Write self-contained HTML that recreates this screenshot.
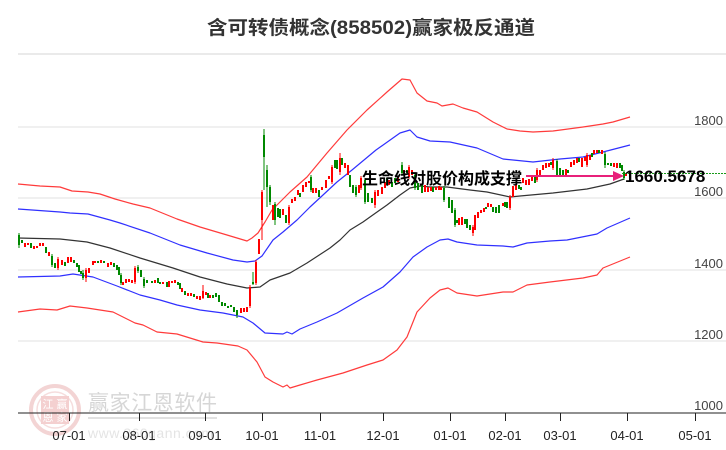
<!DOCTYPE html>
<html>
<head>
<meta charset="utf-8">
<style>
html,body{margin:0;padding:0;background:#fff;}
body{width:726px;height:450px;overflow:hidden;}
svg{display:block;}
</style>
</head>
<body>
<svg width="726" height="450" viewBox="0 0 726 450" xmlns="http://www.w3.org/2000/svg">
<rect x="0" y="0" width="726" height="450" fill="#fff"/>

<!-- title -->
<text x="371" y="34" text-anchor="middle" font-family="'Liberation Sans','Noto Sans CJK SC',sans-serif" font-weight="bold" font-size="19" fill="#333" textLength="328" lengthAdjust="spacingAndGlyphs">含可转债概念(858502)赢家极反通道</text>
<line x1="18" y1="54" x2="726" y2="54" stroke="#e4e4e4" stroke-width="1.5"/>

<!-- watermark -->
<g opacity="0.9">
<circle cx="55" cy="410" r="24" fill="none" stroke="#f2d0d0" stroke-width="4"/>
<circle cx="55" cy="410" r="18" fill="none" stroke="#f5dada" stroke-width="1.5"/>
<rect x="41" y="396" width="28" height="28" fill="#f3cccc"/>
<text x="48" y="408" text-anchor="middle" font-family="'Noto Sans CJK SC',sans-serif" font-size="11" fill="#fff">江</text>
<text x="62" y="408" text-anchor="middle" font-family="'Noto Sans CJK SC',sans-serif" font-size="11" fill="#fff">赢</text>
<text x="48" y="421" text-anchor="middle" font-family="'Noto Sans CJK SC',sans-serif" font-size="11" fill="#fff">恩</text>
<text x="62" y="421" text-anchor="middle" font-family="'Noto Sans CJK SC',sans-serif" font-size="11" fill="#fff">家</text>
<text x="88" y="410" font-family="'Liberation Sans','Noto Sans CJK SC',sans-serif" font-size="21" fill="#d2d2d2" textLength="129">赢家江恩软件</text>
<line x1="88" y1="418" x2="217" y2="418" stroke="#dedede" stroke-width="2"/>
<text x="88" y="438" font-family="'Liberation Sans',sans-serif" font-size="14" fill="#e2e2e2" textLength="125">www.360gann.com</text>
</g>

<!-- grid -->
<g stroke="#e2e2e2" stroke-width="1">
<line x1="18" y1="127" x2="726" y2="127"/>
<line x1="18" y1="198" x2="726" y2="198"/>
<line x1="18" y1="270" x2="726" y2="270"/>
<line x1="18" y1="341" x2="726" y2="341"/>
</g>

<!-- y labels -->
<g font-family="'Liberation Sans',sans-serif" font-size="13" fill="#444" text-anchor="end">
<text x="723" y="125">1800</text>
<text x="723" y="196">1600</text>
<text x="723" y="268">1400</text>
<text x="723" y="339">1200</text>
<text x="723" y="410">1000</text>
</g>

<!-- x axis -->
<line x1="18" y1="413" x2="726" y2="413" stroke="#222" stroke-width="1"/>
<g stroke="#222" stroke-width="1">
<line x1="69.5" y1="413" x2="69.5" y2="421"/>
<line x1="139.5" y1="413" x2="139.5" y2="421"/>
<line x1="205.5" y1="413" x2="205.5" y2="421"/>
<line x1="262.5" y1="413" x2="262.5" y2="421"/>
<line x1="320.5" y1="413" x2="320.5" y2="421"/>
<line x1="383.5" y1="413" x2="383.5" y2="421"/>
<line x1="450.5" y1="413" x2="450.5" y2="421"/>
<line x1="505.5" y1="413" x2="505.5" y2="421"/>
<line x1="560.5" y1="413" x2="560.5" y2="421"/>
<line x1="627.5" y1="413" x2="627.5" y2="421"/>
<line x1="695.5" y1="413" x2="695.5" y2="421"/>
</g>
<g font-family="'Liberation Sans',sans-serif" font-size="13" fill="#222" text-anchor="middle">
<text x="69" y="440">07-01</text>
<text x="139" y="440">08-01</text>
<text x="205" y="440">09-01</text>
<text x="262" y="440">10-01</text>
<text x="320" y="440">11-01</text>
<text x="383" y="440">12-01</text>
<text x="450" y="440">01-01</text>
<text x="505" y="440">02-01</text>
<text x="560" y="440">03-01</text>
<text x="627" y="440">04-01</text>
<text x="695" y="440">05-01</text>
</g>

<!-- bands -->
<g fill="none" stroke-width="1.2" stroke-linejoin="round">
<polyline stroke="#ff3b3b" points="18,184 40,186 60,187 72,191 88,192 100,194 115,199 133,204 150,208 177,219 200,227 227,235 247,241 252,238 258,233 265,222 272,210 280,202 290,192 307,177 327,153 347,130 367,110 387,92 402,79 410,80 417,93 427,101 437,103 442,106 453,104 463,108 477,112 493,122 507,129 520,131 533,132 553,131 583,127 603,124 613,122 630,117"/>
<polyline stroke="#3030ff" points="18,209 60,212 70,213 88,214 110,220 120,223 150,233 180,245 207,253 233,260 247,262 255,261 262,256 273,240 283,232 297,220 310,207 323,195 337,182 352,170 376,150 400,133 410,130 417,137 430,141 450,142 477,148 503,159 533,162 560,159 583,157 603,152 630,145"/>
<polyline stroke="#333" points="18,238 60,239 87,242 110,248 140,258 173,268 200,277 227,284 247,288 260,287 270,280 290,273 307,263 330,248 340,240 350,230 363,222 370,217 387,205 400,195 410,188 420,186 430,187 447,187 470,190 487,192 510,197 520,196 553,193 587,189 610,184 624,179"/>
<polyline stroke="#3030ff" points="18,277 60,276 73,274 93,277 117,286 140,295 160,300 177,305 200,310 223,313 243,317 253,323 265,333 283,334 287,332 292,334 300,329 317,322 337,313 363,298 383,287 400,272 413,257 427,247 440,240 448,239 457,242 477,245 503,246 513,247 527,243 550,241 567,240 597,234 607,228 630,218"/>
<polyline stroke="#ff3b3b" points="18,312 40,309 57,310 70,306 87,308 100,310 113,312 123,317 135,323 143,325 157,332 177,334 190,338 203,342 217,343 238,346 247,350 257,362 265,377 273,382 283,387 287,385 290,388 300,385 317,380 343,373 367,365 383,360 397,350 407,337 417,312 430,298 440,290 448,288 457,293 477,296 503,292 513,292 527,285 550,282 583,278 597,275 603,268 630,257"/>
</g>

<!-- wicks -->
<path fill="none" stroke="#f00" stroke-width="1" d="M86 268V282M203 285V299M262 190V240M340 153V175M375 190V208M473 225V236M256 260V285M250 285V308M135 266V284M58 257V270M289 205V225M332 165V184M361 176V190M409 165V179M510 195V210M537 168V182M587 153V167M553 158V170"/>
<path fill="none" stroke="#080" stroke-width="1" d="M19 233V248M83 270V280M138 265V273M237 310V318M253 272V285M264 129V190M267 165V207M270 185V205M275 202V225M356 185V197M402 162V175M605 152V168M624 170V180M121 273V285M144 277V288M311 175V192M365 178V204M415 173V190M455 208V227M557 159V177M444 186V202M52 254V267"/>

<!-- candle bodies -->
<path fill="none" stroke="#f00" stroke-width="2" d="M25 243V247M28 243V245M34 246V249M37 246V248M40 243V246M43 243V246M49 252V256M58 259V268M62 260V265M68 257V263M71 257V262M86 270V278M89 268V273M93 261V265M95 261V263M101 260V263M108 263V267M111 262V265M123 282V285M126 279V283M129 279V282M132 280V283M135 268V282M155 280V283M163 282V284M169 281V287M172 281V283M175 280V283M182 288V292M188 293V296M191 293V296M197 296V299M200 296V300M203 291V298M206 292V295M210 295V298M241 308V313M244 308V312M247 307V312M250 287V306M256 262V283M259 239V254M262 192V220M273 205V220M283 209V215M289 207V223M292 199V203M295 197V201M298 190V195M303 185V192M306 182V187M309 181V183M313 188V193M316 188V193M322 187V190M326 180V188M329 176V179M332 167V182M340 158V172M345 163V168M348 165V175M359 185V193M361 178V188M375 192V205M378 190V196M382 187V194M385 182V188M389 180V185M398 177V182M404 170V175M409 167V177M412 170V175M425 185V192M428 187V192M431 187V191M436 187V190M439 186V190M441 187V190M459 218V225M462 217V225M473 227V233M475 215V230M478 212V218M481 210V213M484 208V212M488 203V207M491 204V207M503 203V206M510 197V208M513 186V197M516 185V190M523 178V183M526 180V185M529 179V185M532 177V181M537 170V180M540 170V175M543 165V170M546 163V168M549 163V167M553 160V168M566 169V177M571 162V167M574 160V165M577 158V163M582 158V167M585 157V161M587 155V165M590 155V160M594 150V154M597 150V153M602 150V154M614 163V167M617 163V168M626 173V176"/>
<path fill="none" stroke="#080" stroke-width="2" d="M19 235V245M22 240V243M31 243V248M46 247V253M52 256V265M55 263V268M65 262V266M74 260V263M77 263V267M79 265V272M81 271V274M83 273V278M98 261V263M104 261V263M114 263V267M117 265V270M119 267V275M121 275V283M138 267V271M141 270V277M144 279V286M147 280V283M152 281V283M158 278V283M160 282V284M167 282V287M178 282V285M180 283V289M185 291V295M194 294V297M208 293V298M213 295V298M216 293V297M219 295V302M222 302V306M225 303V306M228 306V308M231 305V307M234 307V312M237 310V315M253 282V284M264 135V157M267 170V187M270 187V202M275 204V220M278 208V217M280 209V218M286 215V223M300 193V197M311 177V190M319 190V197M335 160V168M337 160V169M342 158V165M350 175V187M353 185V193M356 187V195M365 180V202M368 193V202M372 198V203M387 178V185M392 182V187M395 178V183M402 165V173M407 170V173M415 175V188M418 183V190M422 185V193M433 187V192M444 188V200M449 197V208M452 200V213M455 210V225M457 220V223M465 219V224M467 219V228M470 225V230M486 207V209M493 207V212M496 207V213M499 205V213M505 202V207M507 202V208M519 185V189M521 187V190M535 177V183M551 162V165M557 161V175M560 168V175M563 170V175M568 170V173M579 158V162M592 153V157M599 150V153M605 154V165M608 163V165M611 163V166M620 163V168M622 165V171M624 172V178"/>

<!-- support annotation -->
<line x1="622" y1="173.5" x2="726" y2="173.5" stroke="#1a9a1a" stroke-width="1" stroke-dasharray="2,1"/>
<line x1="526" y1="176" x2="615" y2="176" stroke="#e8207a" stroke-width="2"/>
<polygon points="613,171 624,176 613,181" fill="#e8207a"/>
<text x="362" y="184" font-family="'Liberation Sans','Noto Sans CJK SC',sans-serif" font-weight="bold" font-size="16" fill="#000">生命线对股价构成支撑</text>
<text x="625" y="182" font-family="'Liberation Sans',sans-serif" font-weight="bold" font-size="17" fill="#000">1660.5678</text>
</svg>
</body>
</html>
